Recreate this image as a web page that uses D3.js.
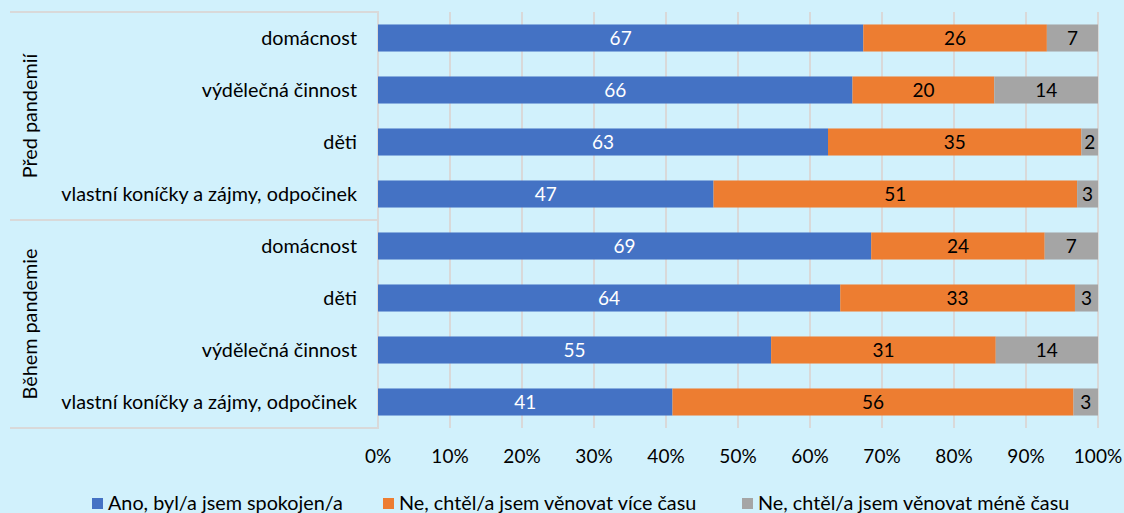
<!DOCTYPE html>
<meta charset="utf-8">
<head>
    <title>Spokojenost s časem</title>
    <script src="https://d3js.org/d3.v7.min.js"></script>
</head>
<body>
<style>
    body {
        margin: 0;
        background-color: #D1F1FC;
        font-family: Lato, "Open Sans", sans-serif;
    }
    .grid line {
        stroke: #D9D9D9;
        stroke-width: 2px;
    }
    .frame {
        stroke: #D9D9D9;
        stroke-width: 2px;
        fill: none;
    }
    .tick-label, .cat-label, .group-label, .legend text {
        fill: #000;
        font-size: 19.8px;
    }
    .tick-label { font-size: 19px; }
</style>
<svg width="1124" height="513"></svg>
<script>
    var groups = ["Před pandemií", "Během pandemie"];
    var categories = [
        ["domácnost", "výdělečná činnost", "děti", "vlastní koníčky a zájmy, odpočinek"],
        ["domácnost", "děti", "výdělečná činnost", "vlastní koníčky a zájmy, odpočinek"]
    ];
    var seriesNames = ["Ano, byl/a jsem spokojen/a", "Ne, chtěl/a jsem věnovat více času", "Ne, chtěl/a jsem věnovat méně času"];
    var seriesColors = ["#4472C4", "#ED7D31", "#A5A5A5"];
    var labelColors = ["#fff", "#000", "#000"];
    // shares in %, labels show them rounded
    var spokojen = [67.4, 65.9, 62.5, 46.6, 68.5, 64.2, 54.6, 40.9];
    var viceCasu = [25.5, 19.7, 35.2, 50.5, 24.1, 32.6, 31.2, 55.7];
    var meneCasu = [7.1, 14.4, 2.3, 2.9, 7.4, 3.2, 14.2, 3.4];
    var xTicks = [0, 10, 20, 30, 40, 50, 60, 70, 80, 90, 100];

    var svg = d3.select("svg");
    var plotLeft = 378, plotRight = 1098, plotTop = 12, plotBottom = 428;

    var rows = [];
    categories.forEach(function(list, gi) {
        list.forEach(function(c) { rows.push({group: gi, cat: c}); });
    });
    rows.forEach(function(r, i) {
        r.id = i;
        r.vals = [spokojen[i], viceCasu[i], meneCasu[i]];
        r.total = d3.sum(r.vals);
    });

    var x = d3.scaleLinear().domain([0, 100]).range([plotLeft, plotRight]);
    var y = d3.scaleBand().domain(rows.map(function(r) { return r.id; }))
        .range([plotTop, plotBottom]).paddingInner(0.48).paddingOuter(0.24);

    // gridlines
    svg.append("g").attr("class", "grid")
        .selectAll("line").data(xTicks.slice(1)).enter().append("line")
        .attr("x1", function(d) { return x(d); })
        .attr("x2", function(d) { return x(d); })
        .attr("y1", plotTop).attr("y2", plotBottom);

    svg.append("g").selectAll("text").data(xTicks).enter().append("text")
        .attr("class", "tick-label")
        .attr("x", function(d) { return x(d); })
        .attr("y", 463)
        .attr("text-anchor", "middle")
        .text(function(d) { return d + "%"; });

    // category frame
    var groupBreak = y(categories[0].length) - y.step() * y.paddingInner() / 2;
    svg.append("path").attr("class", "frame")
        .attr("d", "M10," + plotTop + "H" + plotLeft + "V" + plotBottom + "H10M10," + groupBreak + "H" + plotLeft);

    // bars
    var segs = [];
    rows.forEach(function(r) {
        var acc = 0;
        r.vals.forEach(function(v, si) {
            segs.push({row: r, s: si, v: v, x0: acc / r.total * 100, x1: (acc + v) / r.total * 100});
            acc += v;
        });
    });

    var bars = svg.append("g");
    bars.selectAll("rect").data(segs).enter().append("rect")
        .attr("x", function(d) { return x(d.x0); })
        .attr("width", function(d) { return x(d.x1) - x(d.x0); })
        .attr("y", function(d) { return y(d.row.id); })
        .attr("height", y.bandwidth())
        .attr("fill", function(d) { return seriesColors[d.s]; });

    bars.selectAll("text").data(segs).enter().append("text")
        .attr("x", function(d) { return x((d.x0 + d.x1) / 2); })
        .attr("y", function(d) { return y(d.row.id) + y.bandwidth() / 2; })
        .attr("dy", "0.36em")
        .attr("text-anchor", "middle")
        .style("font-size", "19px")
        .attr("fill", function(d) { return labelColors[d.s]; })
        .text(function(d) { return Math.round(d.v); });

    // category labels
    svg.append("g").selectAll("text").data(rows).enter().append("text")
        .attr("class", "cat-label")
        .attr("x", plotLeft - 21)
        .attr("y", function(r) { return y(r.id) + y.bandwidth() / 2; })
        .attr("dy", "0.36em")
        .attr("text-anchor", "end")
        .text(function(r) { return r.cat; });

    // group labels
    var groupMid = [(plotTop + groupBreak) / 2, (groupBreak + plotBottom) / 2];
    svg.append("g").selectAll("text").data(groups).enter().append("text")
        .attr("class", "group-label")
        .attr("transform", function(d, i) { return "translate(37," + groupMid[i] + ") rotate(-90)"; })
        .attr("text-anchor", "middle")
        .text(function(d) { return d; });

    // legend
    var legendX = [92, 383, 742];
    var legend = svg.append("g").attr("class", "legend")
        .selectAll("g").data(seriesNames).enter().append("g")
        .attr("transform", function(d, i) { return "translate(" + legendX[i] + ",0)"; });
    legend.append("rect").attr("x", 0).attr("y", 498).attr("width", 11).attr("height", 11)
        .attr("fill", function(d, i) { return seriesColors[i]; });
    legend.append("text").attr("x", 16).attr("y", 510).text(function(d) { return d; });
</script>
</body>
